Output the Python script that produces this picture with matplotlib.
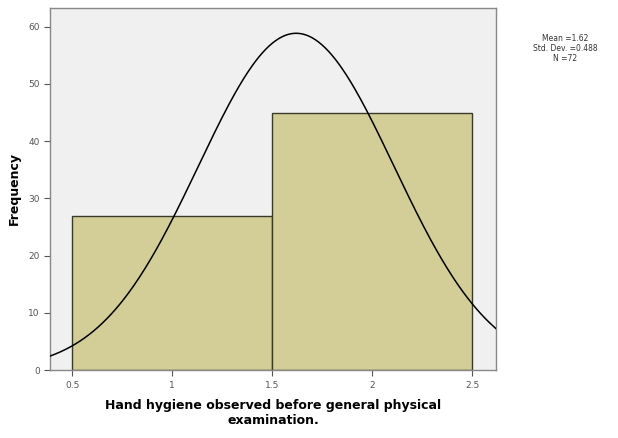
import numpy as np
import matplotlib
matplotlib.use("Agg")
import matplotlib.pyplot as plt

# ---------- DATA ----------
bin_edges = [0.5, 1.5, 2.5]
bin_counts = [27, 45]
mean_val = 1.62
std_val = 0.488
n_val = 72
x_ticks = [0.5, 1, 1.5, 2, 2.5]
x_tick_labels = ["0.5", "1", "1.5", "2", "2.5"]
y_ticks = [0, 10, 20, 30, 40, 50, 60]

# ---------- FIGURE ----------
fig = plt.figure(figsize=(6.18, 4.38), dpi=100)
ax = fig.add_axes([0.081, 0.155, 0.722, 0.827])
ax.set_facecolor("#F0F0F0")

widths = np.diff(bin_edges)
ax.bar(bin_edges[:-1], bin_counts, width=widths, align="edge",
       color="#D3CE97", edgecolor="#3a3a2a", linewidth=1.0, zorder=2)

# normal curve scaled to counts
xs = np.linspace(0.39, 2.62, 400)
bw = widths[0]
ys = n_val * bw / (std_val * np.sqrt(2 * np.pi)) * np.exp(-0.5 * ((xs - mean_val) / std_val) ** 2)
ax.plot(xs, ys, color="black", linewidth=1.1, zorder=3)

ax.set_xlim(0.39, 2.62)
ax.set_ylim(0, 63.3)
ax.set_xticks(x_ticks)
ax.set_xticklabels(x_tick_labels)
ax.set_yticks(y_ticks)
ax.tick_params(axis="both", labelsize=6.5, colors="#555555", length=4, width=0.8, direction="out")
for s in ax.spines.values():
    s.set_color("#888888")
    s.set_linewidth(1.0)

ax.set_ylabel("Frequency", fontsize=9, fontweight="bold", labelpad=5)
ax.set_xlabel("Hand hygiene observed before general physical\nexamination.",
              fontsize=9, fontweight="bold", labelpad=7, linespacing=1.15)

fig.text(0.915, 0.922, f"Mean ={mean_val}\nStd. Dev. ={std_val}\nN ={n_val}",
         fontsize=5.5, ha="center", va="top", color="#333333", linespacing=1.15)

fig.savefig("out.png", dpi=100)
